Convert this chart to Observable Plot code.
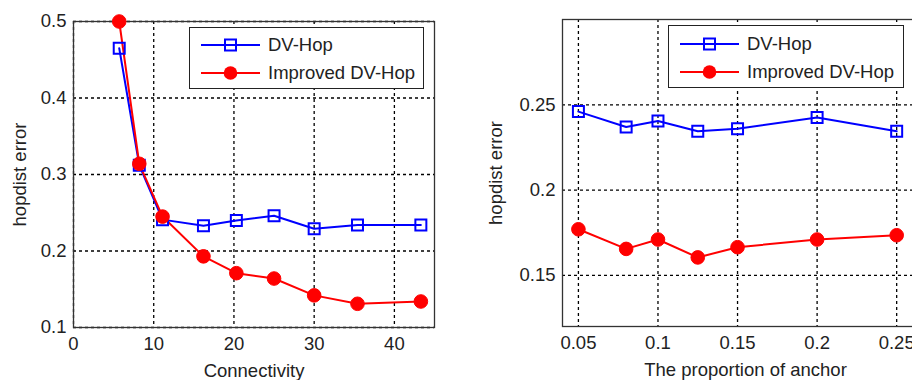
<!DOCTYPE html>
<html>
<head>
<meta charset="utf-8">
<script src="https://cdn.jsdelivr.net/npm/d3@7"></script>
<script src="https://cdn.jsdelivr.net/npm/@observablehq/plot@0.6"></script>
<style>
  html, body { margin: 0; padding: 0; background: #fff; overflow: hidden; }
  #wrap { position: relative; width: 912px; height: 380px; overflow: hidden; font-family: "Liberation Sans", Arial, sans-serif; color: #222; }
  .panel { position: absolute; top: 0; }
  .panel svg { max-width: none !important; }
  .legend { position: absolute; background: #fff; border: 1.5px solid #222; box-sizing: border-box; }
  .legend .row { position: absolute; left: 0; height: 20px; }
  .legend svg { position: absolute; left: 11px; top: 0; }
  .legend span { position: absolute; left: 78px; top: 50%; transform: translateY(-50%); font-size: 18.5px; white-space: nowrap; color: #222; }
</style>
</head>
<body>
<div id="wrap">
  <div class="panel" id="left" style="left:0;width:460px"></div>
  <div class="panel" id="right" style="left:460px;width:470px"></div>
</div>
<script>
// ---- Left panel data: error vs connectivity ----
const connectivity = [5.7, 8.2, 11.1, 16.2, 20.3, 25, 30, 35.4, 43.3];
const dvhopConn = [0.465, 0.312, 0.241, 0.233, 0.240, 0.246, 0.229, 0.234, 0.234];
const improvedConn = [0.500, 0.314, 0.245, 0.193, 0.171, 0.164, 0.142, 0.131, 0.134];
const connXTicks = [0, 10, 20, 30, 40];
const connYTicks = [0.1, 0.2, 0.3, 0.4, 0.5];

// ---- Right panel data: error vs proportion of anchor ----
const anchorProp = [0.05, 0.08, 0.1, 0.125, 0.15, 0.2, 0.25];
const dvhopAnchor = [0.246, 0.237, 0.2405, 0.2345, 0.236, 0.2425, 0.2345];
const improvedAnchor = [0.177, 0.1655, 0.171, 0.1605, 0.1665, 0.171, 0.1735];
const anchorXTicks = [0.05, 0.1, 0.15, 0.2, 0.25];
const anchorYTicks = [0.15, 0.2, 0.25];

const seriesNames = ["DV-Hop", "Improved DV-Hop"];
const BLUE = "#0000ff", RED = "#ff0000";

function rows(xs, ys) { return xs.map((x, i) => ({x, y: ys[i]})); }

function panel({xs, a, b, xDomain, yDomain, xTicks, yTicks, xLabel, width, ml, mr, mt, mb, yLabelOffset}) {
  const A = rows(xs, a), B = rows(xs, b);
  const fmt = d => `${d}`;
  return Plot.plot({
    width, height: 380,
    marginLeft: ml, marginRight: mr, marginTop: mt, marginBottom: mb,
    style: {fontFamily: "'Liberation Sans', Arial, sans-serif", fontSize: "18.5px", color: "#222", background: "transparent", overflow: "visible", maxWidth: "none"},
    x: {domain: xDomain},
    y: {domain: yDomain},
    marks: [
      Plot.gridX(xTicks, {stroke: "#000", strokeOpacity: 1, strokeWidth: 1.3, strokeDasharray: "3,3"}),
      Plot.gridY(yTicks, {stroke: "#000", strokeOpacity: 1, strokeWidth: 1.3, strokeDasharray: "3,3"}),
      Plot.axisX({ticks: xTicks, tickFormat: fmt, tickSize: 0, tickPadding: 9, label: xLabel, labelAnchor: "center", labelArrow: "none", labelOffset: 49}),
      Plot.axisY({ticks: yTicks, tickFormat: fmt, tickSize: 0, tickPadding: 7, label: "hopdist error", labelAnchor: "center", labelArrow: "none", labelOffset: yLabelOffset}),
      Plot.frame({stroke: "#333", strokeWidth: 1.3}),
      Plot.line(A, {x: "x", y: "y", stroke: BLUE, strokeWidth: 2}),
      Plot.line(B, {x: "x", y: "y", stroke: RED, strokeWidth: 2}),
      Plot.dot(A, {x: "x", y: "y", symbol: "square", r: 6.2, stroke: BLUE, strokeWidth: 2, fill: "none"}),
      Plot.dot(B, {x: "x", y: "y", symbol: "circle", r: 6.8, stroke: RED, strokeWidth: 1, fill: RED})
    ]
  });
}

document.getElementById("left").append(panel({
  xs: connectivity, a: dvhopConn, b: improvedConn,
  xDomain: [0, 45], yDomain: [0.1, 0.5], xTicks: connXTicks, yTicks: connYTicks,
  xLabel: "Connectivity", width: 460, ml: 73, mr: 26, mt: 21, mb: 53, yLabelOffset: 61
}));
document.getElementById("right").append(panel({
  xs: anchorProp, a: dvhopAnchor, b: improvedAnchor,
  xDomain: [0.04, 0.27], yDomain: [0.12, 0.30], xTicks: anchorXTicks, yTicks: anchorYTicks,
  xLabel: "The proportion of anchor", width: 470, ml: 102, mr: 2, mt: 19, mb: 54, yLabelOffset: 74
}));

// ---- Legends (HTML overlay) ----
function legend(left, top, w, h, rowCenters) {
  const box = document.createElement("div");
  box.className = "legend";
  Object.assign(box.style, {left: left + "px", top: top + "px", width: w + "px", height: h + "px"});
  seriesNames.forEach((name, i) => {
    const row = document.createElement("div");
    row.className = "row";
    row.style.top = (rowCenters[i] - 10) + "px";
    row.style.width = "100%";
    const color = i === 0 ? BLUE : RED;
    const marker = i === 0
      ? `<rect x="24" y="4.5" width="11" height="11" fill="none" stroke="${color}" stroke-width="2"/>`
      : `<circle cx="29.5" cy="10" r="6.8" fill="${color}"/>`;
    row.innerHTML = `<svg width="60" height="20"><line x1="0" y1="10" x2="59" y2="10" stroke="${color}" stroke-width="2"/>${marker}</svg><span>${name}</span>`;
    box.append(row);
  });
  document.getElementById("wrap").append(box);
}
legend(189, 27, 235, 62, [17, 45]);
legend(668, 25, 236, 63, [18, 46]);
</script>
</body>
</html>
